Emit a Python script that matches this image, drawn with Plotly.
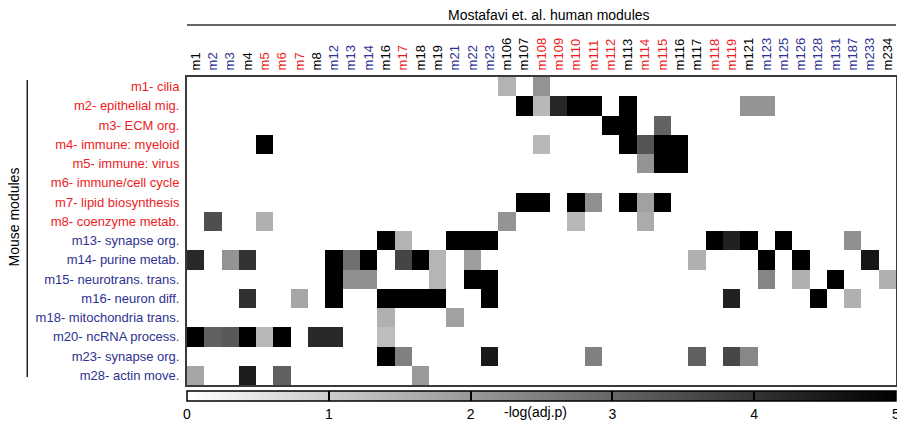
import plotly.graph_objects as go

RED = "#ed1c24"
BLUE = "#2e3192"
BLACK = "#000000"

# Human modules (columns) and their label colours
human_modules = ["m1", "m2", "m3", "m4", "m5", "m6", "m7", "m8", "m12", "m13", "m14", "m16",
                 "m17", "m18", "m19", "m21", "m22", "m23", "m106", "m107", "m108", "m109",
                 "m110", "m111", "m112", "m113", "m114", "m115", "m116", "m117", "m118",
                 "m119", "m121", "m123", "m125", "m126", "m128", "m131", "m187", "m233", "m234"]
human_colors = ["k", "b", "b", "k", "r", "r", "r", "k", "b", "b", "b", "k",
                "r", "k", "k", "b", "b", "b", "k", "k", "r", "r",
                "r", "r", "r", "k", "r", "r", "k", "k", "r",
                "r", "k", "b", "b", "b", "b", "b", "b", "b", "k"]

# Mouse modules (rows) and their label colours
mouse_modules = ["m1- cilia", "m2- epithelial mig.", "m3- ECM org.", "m4- immune: myeloid",
                 "m5- immune: virus", "m6- immune/cell cycle", "m7- lipid biosynthesis",
                 "m8- coenzyme metab.", "m13- synapse org.", "m14- purine metab.",
                 "m15- neurotrans. trans.", "m16- neuron diff.", "m18- mitochondria trans.",
                 "m20- ncRNA process.", "m23- synapse org.", "m28- actin move."]
mouse_colors = ["r"] * 8 + ["b"] * 8

# -log(adj.p) per mouse module (only significant overlaps)
row_m1 = {"m106": 1.5, "m108": 2.1}
row_m2 = {"m107": 5, "m108": 1.4, "m109": 4.25, "m110": 5, "m111": 5, "m113": 5,
          "m121": 2.1, "m123": 2.1}
row_m3 = {"m112": 5, "m113": 5, "m115": 3.05}
row_m4 = {"m5": 5, "m108": 1.4, "m113": 5, "m114": 3.35, "m115": 5, "m116": 5}
row_m5 = {"m114": 2.1, "m115": 5, "m116": 5}
row_m6 = {}
row_m7 = {"m107": 5, "m108": 5, "m110": 5, "m111": 2.2, "m113": 5, "m114": 1.85, "m115": 5}
row_m8 = {"m2": 3.45, "m5": 1.55, "m106": 2.1, "m110": 1.4, "m114": 1.65}
row_m13 = {"m16": 5, "m17": 1.5, "m21": 5, "m22": 5, "m23": 5, "m118": 5, "m119": 4.35,
           "m121": 5, "m125": 5, "m187": 2.2}
row_m14 = {"m1": 4.2, "m3": 2.1, "m4": 4.0, "m12": 5, "m13": 2.8, "m14": 5, "m17": 3.65,
           "m18": 5, "m19": 1.45, "m22": 1.9, "m117": 1.55, "m123": 5, "m126": 5, "m233": 4.55}
row_m15 = {"m12": 5, "m13": 2.2, "m14": 2.2, "m19": 1.45, "m22": 5, "m23": 5, "m123": 2.4,
           "m126": 1.55, "m131": 5, "m234": 1.55}
row_m16 = {"m4": 4.05, "m7": 1.75, "m12": 5, "m16": 5, "m17": 5, "m18": 5, "m19": 5,
           "m23": 5, "m119": 4.35, "m128": 5, "m187": 1.55}
row_m18 = {"m16": 1.55, "m21": 1.85}
row_m20 = {"m1": 5, "m2": 3.1, "m3": 3.25, "m4": 5, "m5": 1.4, "m6": 5, "m8": 4.2,
           "m12": 4.2, "m16": 1.3}
row_m23 = {"m16": 5, "m17": 2.5, "m23": 4.5, "m111": 2.5, "m117": 3.1, "m119": 3.6,
           "m121": 2.35}
row_m28 = {"m1": 1.75, "m4": 4.45, "m6": 3.1, "m18": 2.0}

rows = [row_m1, row_m2, row_m3, row_m4, row_m5, row_m6, row_m7, row_m8,
        row_m13, row_m14, row_m15, row_m16, row_m18, row_m20, row_m23, row_m28]

colorbar_ticks = [0, 1, 2, 3, 4, 5]

cmap = {"r": RED, "b": BLUE, "k": BLACK}
z = [[r.get(h) for h in human_modules] for r in rows]

xt = [f'<span style="color:{cmap[c]}">{t}</span>' for t, c in zip(human_modules, human_colors)]
yt = [f'<span style="color:{cmap[c]}">{t}</span>' for t, c in zip(mouse_modules, mouse_colors)]

FONT = "Liberation Sans, Arial, sans-serif"
NARROW = "Liberation Sans Narrow, Liberation Sans, Arial"

fig = go.Figure(go.Heatmap(
    z=z,
    x=list(range(len(human_modules))),
    y=list(range(len(mouse_modules))),
    zmin=0, zmax=5,
    colorscale=[[0, "#ffffff"], [1, "#000000"]],
    hoverongaps=False,
    colorbar=dict(
        orientation="h", x=0.5, xanchor="center", y=-0.0195, yanchor="top",
        len=1.0, lenmode="fraction", thickness=10, xpad=0, ypad=0,
        outlinecolor="#000000", outlinewidth=1.5,
        tickvals=colorbar_ticks, ticktext=[str(t) for t in colorbar_ticks],
        ticks="inside", ticklen=10, tickcolor="#000000", tickwidth=1.5,
        ticklabeloverflow="allow",
        tickfont=dict(family=NARROW, size=14, color="#000"),
    ),
))

fig.update_layout(
    width=897, height=421,
    margin=dict(l=187, r=1, t=77, b=36, autoexpand=False),
    paper_bgcolor="white", plot_bgcolor="white",
    font=dict(family=FONT, size=13, color="#000"),
    xaxis=dict(side="top", tickmode="array", tickvals=list(range(len(human_modules))),
               ticktext=xt, tickangle=-90, ticks="", showgrid=False, zeroline=False,
               range=[-0.5, len(human_modules) - 0.5], automargin=False,
               showline=True, mirror=True, linecolor="#3a3a3a", linewidth=2,
               tickfont=dict(family=FONT, size=13), ticklabelstandoff=2),
    yaxis=dict(tickmode="array", tickvals=list(range(len(mouse_modules))),
               ticktext=yt, ticks="", showgrid=False, zeroline=False,
               range=[len(mouse_modules) - 0.5, -0.5], automargin=False,
               showline=True, mirror=True, linecolor="#3a3a3a", linewidth=2,
               tickfont=dict(family=FONT, size=13), ticklabelstandoff=3),
    annotations=[
        dict(text="Mostafavi et. al. human modules", xref="paper", yref="paper",
             x=0.511, y=1.202, xanchor="center", yanchor="middle", showarrow=False,
             font=dict(family=FONT, size=14, color="#000")),
        dict(text="Mouse modules", xref="paper", yref="paper", textangle=-90,
             x=-0.244, y=0.544, xanchor="center", yanchor="middle", showarrow=False,
             font=dict(family=FONT, size=14, color="#000")),
        dict(text="-log(adj.p)", xref="paper", yref="paper",
             x=0.492, y=-0.088, xanchor="center", yanchor="middle", showarrow=False,
             font=dict(family=NARROW, size=14, color="#000")),
    ],
    shapes=[
        dict(type="line", xref="paper", yref="paper", x0=0, x1=1, y0=1.169, y1=1.169,
             line=dict(color="#333", width=1.5)),
        dict(type="line", xref="paper", yref="paper", x0=-0.2253, x1=-0.2253, y0=0.026, y1=0.99,
             line=dict(color="#222", width=1.5)),
    ],
)

fig.write_html(
    "out.html",
    config={"displayModeBar": False},
    post_script="document.body.style.margin='0';document.body.style.padding='0';"
                "document.body.style.overflow='hidden';",
)
